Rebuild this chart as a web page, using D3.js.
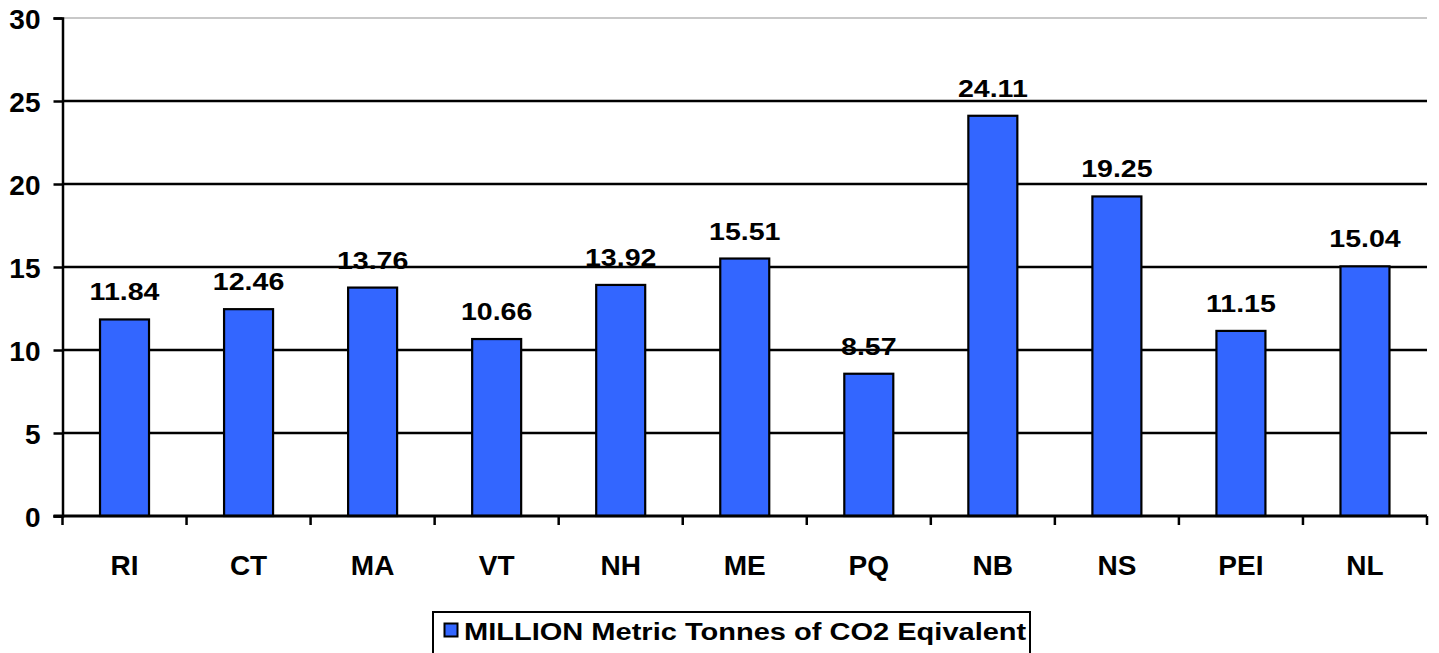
<!DOCTYPE html>
<html>
<head>
<meta charset="utf-8">
<script src="https://cdn.jsdelivr.net/npm/d3@7"></script>
<style>
  html, body { margin: 0; padding: 0; background: #fff; }
  svg { display: block; }
  text { font-family: "Liberation Sans", Arial, sans-serif; font-weight: bold; fill: #000; }
</style>
</head>
<body>
<svg id="chart" width="1439" height="653"></svg>
<script>
const categories = ["RI", "CT", "MA", "VT", "NH", "ME", "PQ", "NB", "NS", "PEI", "NL"];
const values = [11.84, 12.46, 13.76, 10.66, 13.92, 15.51, 8.57, 24.11, 19.25, 11.15, 15.04];
const yTicks = [0, 5, 10, 15, 20, 25, 30];
const seriesName = "MILLION Metric Tonnes of CO2 Eqivalent";

(function () {
const svg = d3.select("#chart");
const pLeft = 62.5, pRight = 1427, pTop = 18, pBottom = 516;

const x = d3.scaleBand().domain(categories).range([pLeft, pRight]).padding(0);
const y = d3.scaleLinear().domain([0, 30]).range([pBottom, pTop]);

// gridlines
svg.append("g").selectAll("line").data(yTicks.filter(t => t > 0)).join("line")
  .attr("x1", pLeft).attr("x2", pRight)
  .attr("y1", d => y(d)).attr("y2", d => y(d))
  .attr("stroke", d => d === 30 ? "#c8c8c8" : "#000")
  .attr("stroke-width", d => d === 30 ? 2 : 2.3);

// y axis
const yAxis = d3.axisLeft(y).tickValues(yTicks).tickSize(9).tickPadding(13).tickFormat(d3.format("d"));
const gy = svg.append("g").attr("transform", `translate(${pLeft},0)`).call(yAxis);
gy.select(".domain").attr("stroke", "#000").attr("stroke-width", 2.5);
gy.selectAll(".tick line").attr("stroke", "#000").attr("stroke-width", 2.5);
gy.selectAll(".tick text").style("font-size", "28px").attr("dy", "0.36em")
  .style("font-family", "'Liberation Sans', Arial, sans-serif").style("font-weight", "bold");

// bars
const bw = 49;
svg.append("g").selectAll("rect").data(values).join("rect")
  .attr("x", (d, i) => x(categories[i]) + x.bandwidth() / 2 - bw / 2)
  .attr("y", d => y(d))
  .attr("width", bw)
  .attr("height", d => pBottom - y(d))
  .attr("fill", "#3366FF")
  .attr("stroke", "#000")
  .attr("stroke-width", 2.2);

// x axis
svg.append("line").attr("x1", pLeft - 9).attr("x2", pRight).attr("y1", pBottom).attr("y2", pBottom)
  .attr("stroke", "#000").attr("stroke-width", 3);
const boundaries = categories.map(c => x(c)).concat([pRight]);
svg.append("g").selectAll("line").data(boundaries).join("line")
  .attr("x1", d => d).attr("x2", d => d)
  .attr("y1", pBottom).attr("y2", pBottom + 9)
  .attr("stroke", "#000").attr("stroke-width", 2.5);

// category labels
svg.append("g").selectAll("text").data(categories).join("text")
  .attr("x", d => x(d) + x.bandwidth() / 2)
  .attr("y", 575)
  .attr("text-anchor", "middle")
  .style("font-size", "28px")
  .text(d => d);

// value labels
svg.append("g").selectAll("text").data(values).join("text")
  .attr("transform", (d, i) => `translate(${x(categories[i]) + x.bandwidth() / 2},${y(d) - 19}) scale(1.19,1)`)
  .attr("text-anchor", "middle")
  .style("font-size", "24px")
  .text(d => d3.format(".2f")(d));

// legend
const lg = svg.append("g");
lg.append("rect").attr("x", 433).attr("y", 612).attr("width", 597).attr("height", 50)
  .attr("fill", "#fff").attr("stroke", "#000").attr("stroke-width", 2);
lg.append("rect").attr("x", 444.5).attr("y", 623.5).attr("width", 13).attr("height", 13)
  .attr("fill", "#3366FF").attr("stroke", "#000").attr("stroke-width", 2);
lg.append("text").attr("transform", "translate(464,640) scale(1.21,1)")
  .style("font-size", "24px").text(seriesName);
})();
</script>
</body>
</html>
